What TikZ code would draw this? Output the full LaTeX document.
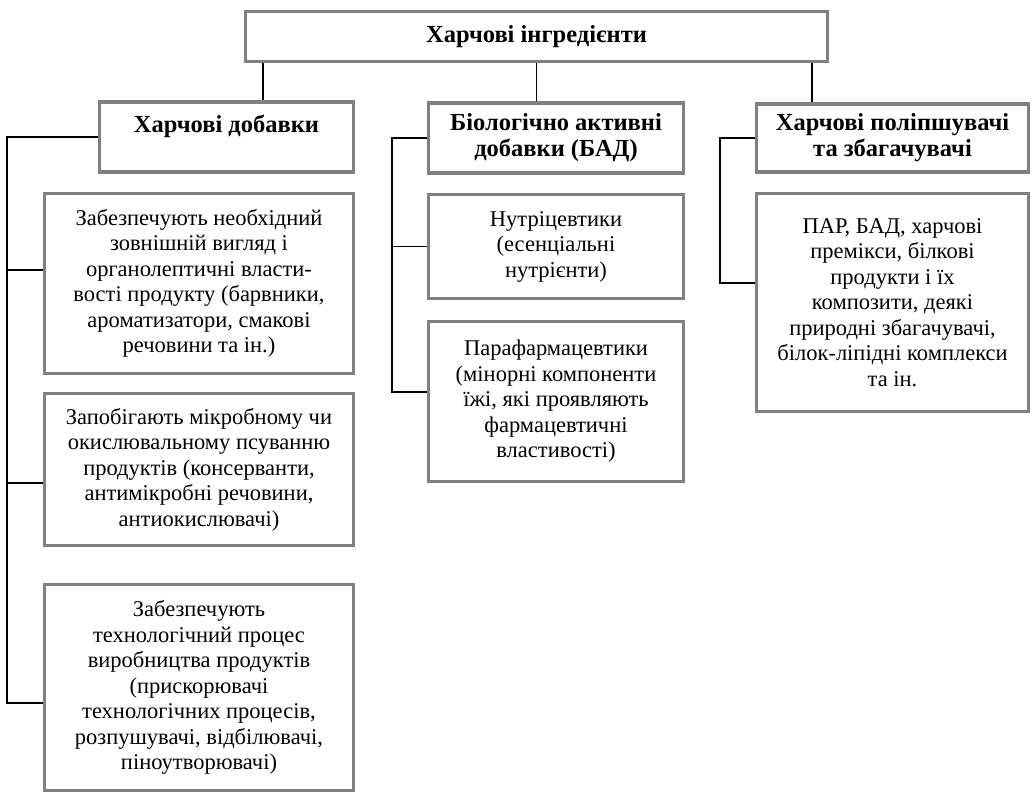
\documentclass[tikz,border=0pt]{standalone}
\usepackage{fontspec}
\setmainfont{Liberation Serif}
\usetikzlibrary{calc}
\definecolor{boxgray}{RGB}{128,128,128}
\begin{document}
\begin{tikzpicture}[x=1pt,y=-1pt,
  box/.style={draw=boxgray,line width=3.5pt,fill=white,rectangle,align=center,inner sep=0pt,
    font=\fontsize{22.5}{25.5}\selectfont},
  head/.style={box,font=\fontsize{24.5}{26}\selectfont\bfseries},
  conn/.style={draw=black,line width=1.6pt}]
\useasboundingbox (0,0) rectangle (1032,793);
\node[head,minimum width=582pt,minimum height=50pt] (title) at (536.5,36.5) {Харчові інгредієнти};
\node[head,minimum width=254pt,minimum height=70pt] (a) at (226.5,137) {Харчові добавки\\\mbox{}};
\node[box,minimum width=309pt,minimum height=180pt] (a1) at (199,283.5) {Забезпечують необхідний\\зовнішній вигляд і\\органолептичні власти-\\вості продукту (барвники,\\ароматизатори, смакові\\речовини та ін.)};
\node[box,minimum width=309pt,minimum height=152pt] (a2) at (199,469.5) {Запобігають мікробному чи\\окислювальному псуванню\\продуктів (консерванти,\\антимікробні речовини,\\антиокислювачі)};
\node[box,minimum width=309pt,minimum height=206pt] (a3) at (199,687.5) {Забезпечують\\технологічний процес\\виробництва продуктів\\(прискорювачі\\технологічних процесів,\\розпушувачі, відбілювачі,\\піноутворювачі)};
\node[head,minimum width=255pt,minimum height=70pt] (b) at (556,138) {Біологічно активні\\добавки (БАД)};
\node[box,minimum width=255pt,minimum height=104pt] (b1) at (556,246.5) {Нутріцевтики\\(есенціальні\\нутрієнти)};
\node[box,minimum width=255pt,minimum height=160pt] (b2) at (556,401.5) {Парафармацевтики\\(мінорні компоненти\\їжі, які проявляють\\фармацевтичні\\властивості)};
\node[head,minimum width=272pt,minimum height=68pt] (c) at (892.5,138) {Харчові поліпшувачі\\та збагачувачі};
\node[box,minimum width=272pt,minimum height=218pt] (c1) at (892.5,302.5) {ПАР, БАД, харчові\\премікси, білкові\\продукти і їх\\композити, деякі\\природні збагачувачі,\\білок-ліпідні комплекси\\та ін.};
% connectors from title
\coordinate (ta) at ([xshift=19.5pt]title.south west);
\coordinate (tc) at ([xshift=-17pt]title.south east);
\draw[conn] (ta) -- (ta |- a.north);
\draw[conn] (title.south) -- (title.south |- b.north);
\draw[conn] (tc) -- (tc |- c.north);
% spine A
\coordinate (sa) at (7,0);
\coordinate (a1in) at ([yshift=13.5pt]a1.west);
\coordinate (a2in) at ([yshift=-13.5pt]a2.west);
\coordinate (a3in) at ([yshift=-15.5pt]a3.west);
\draw[conn] (a.west) -| (sa |- a3in) -- (a3in);
\draw[conn] (sa |- a1in) -- (a1in);
\draw[conn] (sa |- a2in) -- (a2in);
% spine B
\coordinate (sb) at (392,0);
\coordinate (b2in) at ([yshift=9.5pt]b2.west);
\draw[conn] (b.west) -| (sb |- b2in) -- (b2in);
\draw[conn] (sb |- b1.west) -- (b1.west);
% spine C
\coordinate (sc) at (720,0);
\coordinate (c1in) at ([yshift=19.5pt]c1.west);
\draw[conn] (c.west) -| (sc |- c1in) -- (c1in);
\end{tikzpicture}
\end{document}
